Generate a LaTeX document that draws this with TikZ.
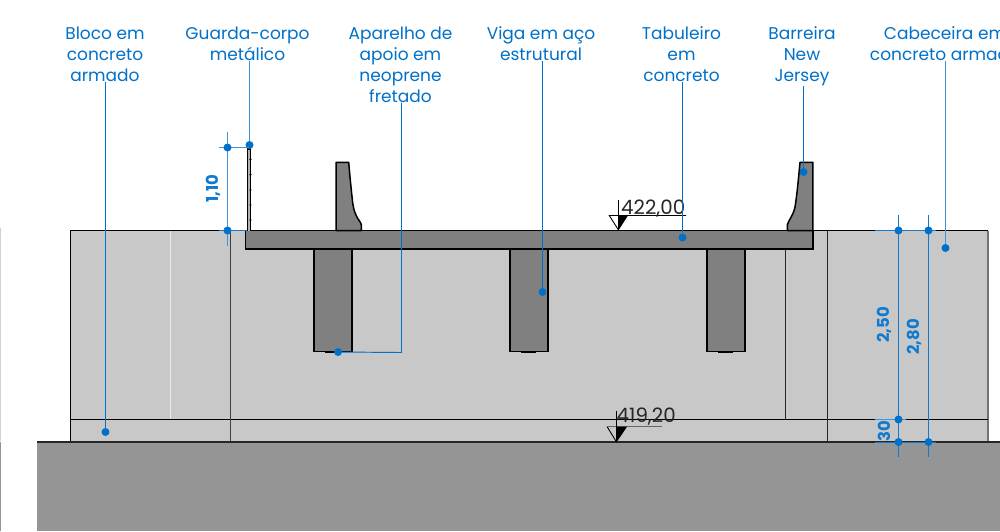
\documentclass[tikz,border=0pt]{standalone}
\usepackage{fontspec}
\setmainfont{Poppins}
\definecolor{leadblue}{HTML}{0070C8}
\definecolor{dimblue}{HTML}{0F7AD0}
\definecolor{lightblue}{HTML}{3F94DA}
\definecolor{blockgray}{HTML}{C8C8C8}
\definecolor{steelgray}{HTML}{808080}
\definecolor{groundgray}{HTML}{959595}
\tikzset{
  lab/.style={align=center,text=leadblue,font=\fontsize{17}{21}\selectfont,inner sep=0pt,anchor=north},
  dimtxt/.style={rotate=90,text=dimblue,font=\bfseries\fontsize{16.5}{18}\selectfont,inner sep=0pt},
  lvltxt/.style={text=black!85,font=\fontsize{19.8}{20}\selectfont,inner sep=0pt},
  dot/.style={circle,fill=leadblue,inner sep=0pt,minimum size=8pt},
  leader/.style={draw=leadblue,line width=0.95pt},
  dimline/.style={draw=dimblue,line width=0.95pt},
  dimlight/.style={draw=lightblue,line width=0.95pt},
  edge/.style={draw=black,line width=1pt},
  heavy/.style={draw=black,line width=1.5pt},
  lvl/.style={draw=black,line width=0.9pt}
}
\begin{document}
\begin{tikzpicture}[x=1pt,y=-1pt]
\useasboundingbox (0,0) rectangle (1000,531);
\clip (0,0) rectangle (1000,531);
% edge strip at far left
\fill[black!18!white] (0,228) rectangle (1,441);
\fill[groundgray] (0,442) rectangle (1,531);
% block
\fill[blockgray] (70.5,230.5) rectangle (988,442);
\draw[edge] (70.5,442) -- (70.5,230.5) -- (988,230.5);
\draw[draw=black!55,line width=1.5pt] (988,230.5) -- (988,442);
\draw[draw=black!8!white,line width=0.8pt] (170.5,230.5) -- (170.5,419.5);
\draw[edge] (70.5,419.5) -- (988,419.5);
\draw[draw=black!75,line width=1pt] (230.5,230.5) -- (230.5,442);
\draw[draw=black!85,line width=1pt] (785.5,249) -- (785.5,419.5);
\draw[draw=black!85,line width=1pt] (827.5,230.5) -- (827.5,442);
% ground
\fill[groundgray] (37,442) rectangle (1000,531);
\draw[draw=black!85,line width=1.4pt] (37,442) -- (1000,442);
% beams
\foreach \bx in {314,510,707}{
  \draw[heavy,fill=steelgray] (\bx,249) rectangle ++(38,102.3);
  \draw[draw=black,line width=1.2pt] (\bx+11,352.4) -- ++(15,0);
}
% deck
\draw[heavy,fill=steelgray] (245.5,230.5) rectangle (812.8,249.2);
% barriers
\draw[heavy,fill=steelgray,line join=round] (336,230.5) -- (336,162.3) -- (348.7,162.3)
  .. controls (350,178) and (351.5,192) .. (352.7,203)
  .. controls (353.5,209) and (355,213) .. (356,215)
  .. controls (358,220) and (361,222) .. (361.3,225) -- (361.3,230.5) -- cycle;
\draw[heavy,fill=steelgray,line join=round] (812.8,230.5) -- (812.8,162.3) -- (800,162.3)
  .. controls (798.5,178) and (797,195) .. (795,207)
  .. controls (793.5,215) and (788,221) .. (787.3,225) -- (787.3,230.5) -- cycle;
% guard rail
\draw[draw=black,line width=1pt,fill=black!30!white] (247.6,230.5) -- (247.6,148) -- (250.4,148) -- (250.4,230.5);
\draw[draw=black,line width=2pt] (247.4,148.5) -- (250.6,148.5);
\foreach \ry in {159.3,174.6,190,205,220}{\fill[black] (250.5,\ry) circle (1.2pt);}
% level marks
\draw[lvl] (618.5,230) -- (609.3,215.5) -- (686,215.5);
\fill[black] (618.7,230) -- (618.7,215) -- (628.3,215) -- cycle;
\draw[lvl] (618.5,200) -- (618.5,230);
\node[lvltxt,anchor=west] (lvlA) at (621,209) {422,00};
\draw[lvl] (616.5,442) -- (607,426.5);
\draw[draw=black!60,line width=1.1pt] (607,426.5) -- (662,426.5);
\fill[black] (616.7,442) -- (616.7,426.7) -- (627,426.7) -- cycle;
\draw[lvl] (616.5,411) -- (616.5,442);
\node[lvltxt,anchor=west] (lvlB) at (616.5,417) {419,20};
% labels
\node[lab] (tBloco) at (105,26.5) {Bloco em\\concreto\\armado};
\node[lab] (tGuarda) at (247.5,26.5) {Guarda-corpo\\metálico};
\node[lab] (tApar) at (400.5,26.5) {Aparelho de\\apoio em\\neoprene\\fretado};
\node[lab] (tViga) at (541,26.5) {Viga em aço\\estrutural};
\node[lab] (tTab) at (681.5,26.5) {Tabuleiro\\em\\concreto};
\node[lab] (tBarr) at (802,26.5) {Barreira\\New\\Jersey};
\node[lab] (tCab) at (945,26.5) {Cabeceira em\\concreto armado};
% leader dots
\node[dot] (dBloco) at (105.5,432) {};
\node[dot] (dGuarda) at (249.5,145) {};
\node[dot] (dApar) at (338,352) {};
\node[dot] (dViga) at (542.5,292) {};
\node[dot] (dTab) at (682.5,237.5) {};
\node[dot] (dBarr) at (803.5,172) {};
\node[dot] (dCab) at (945.5,248) {};
\coordinate (aBend) at (401.5,352.5);
% leaders
\draw[leader] (tBloco.south -| dBloco) -- (dBloco);
\draw[dimlight] (tGuarda.south -| dGuarda) -- (dGuarda);
\draw[leader] (tApar.south -| aBend) -- (aBend) -- (dApar.center);
\draw[leader] (tViga.south -| dViga) -- (dViga);
\draw[leader] (tTab.south -| dTab) -- (dTab);
\draw[leader] (tBarr.south -| dBarr) -- (dBarr);
\draw[dimlight] (tCab.south -| dCab) -- (dCab);
% dimension 1,10
\coordinate (aT) at (227.5,132);
\coordinate (aB) at (227.5,246);
\coordinate (aH1) at (219,147.5);
\coordinate (aH2) at (249,147.5);
\coordinate (aH3) at (219,230.5);
\coordinate (aH4) at (247,230.5);
\draw[dimlight] (aT) -- (aB);
\draw[dimlight] (aH1) -- (aH2);
\draw[dimline] (aH3) -- (aH4);
\node[dot] (dA1) at (227.5,147.5) {};
\node[dot] (dA2) at (227.5,230.5) {};
\node[dimtxt] (t110) at (213,188.5) {1,10};
% dimensions at right
\coordinate (bT1) at (898.5,215);
\coordinate (bB1) at (898.5,457);
\coordinate (bT2) at (928.5,215);
\coordinate (bB2) at (928.5,457);
\coordinate (bL1) at (875,230.5);
\coordinate (bR1) at (936,230.5);
\coordinate (bL2) at (875,419.5);
\coordinate (bR2) at (906,419.5);
\coordinate (bL3) at (875,442);
\coordinate (bR3) at (936,442);
\draw[dimline] (bT1) -- (bB1);
\draw[dimline] (bT2) -- (bB2);
\draw[dimline] (bL1) -- (bR1);
\draw[dimlight] (bL2) -- (bR2);
\draw[dimline] (bL3) -- (bR3);
\node[dot] (dB1) at (898.5,230.5) {};
\node[dot] (dB2) at (928.5,230.5) {};
\node[dot] (dB3) at (898.5,419.5) {};
\node[dot] (dB4) at (898.5,442) {};
\node[dot] (dB5) at (928.5,442) {};
\node[dimtxt] (t250) at (884,325) {2,50};
\node[dimtxt] (t280) at (914.3,336.7) {2,80};
\node[dimtxt] (t30) at (884,431) {30};
\end{tikzpicture}
\end{document}
